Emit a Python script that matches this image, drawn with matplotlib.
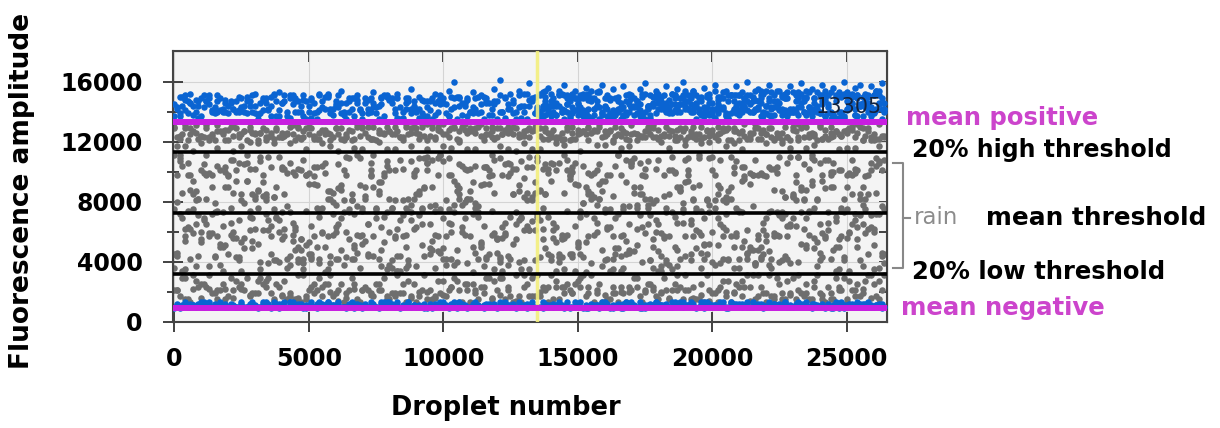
import numpy as np
import matplotlib
matplotlib.use("Agg")
import matplotlib.pyplot as plt
from matplotlib.lines import Line2D

plt.rcParams['font.family'] = ['DejaVu Sans']

# Droplet readings as flat [x, y, x, y, ...] lists.
# x = droplet number in hundreds, y = fluorescence amplitude in hundreds.

# --- positive droplets (blue) ---
pos_band_a = [
0,137, 1,142, 2,137, 3,144, 4,151, 5,139, 6,146, 7,144, 8,140, 9,144,
10,149, 11,151, 12,147, 13,151, 14,140, 15,139, 16,140, 17,149, 18,142, 19,146,
20,139, 21,146, 22,142, 23,140, 24,140, 25,149, 26,140, 27,139, 28,147, 29,151,
30,144, 31,135, 32,139, 33,149, 34,149, 35,142, 36,137, 37,151, 38,147, 39,137,
40,146, 41,151, 42,140, 43,151, 44,151, 45,140, 46,147, 47,144, 48,137, 49,135,
50,144, 51,149, 52,139, 53,135, 54,151, 55,147, 56,142, 57,151, 58,142, 59,142,
60,144, 61,151, 62,139, 63,140, 64,135, 65,147, 66,149, 67,137, 68,146, 69,142,
70,135, 71,146, 72,139, 73,149, 74,146, 75,139, 76,135, 77,149, 78,151, 79,151,
80,149, 81,146, 82,139, 83,149, 84,135, 85,140, 86,142, 87,149, 88,139, 89,144,
90,140, 91,142, 92,139, 93,137, 94,137, 95,147, 96,135, 97,146, 98,147, 99,151,
100,149, 101,139, 102,137, 103,142, 104,149, 105,135, 106,149, 107,146, 108,144, 109,137,
110,140, 111,139, 112,149, 113,139, 114,140, 115,135, 116,146, 117,146, 118,142, 119,147,
120,135, 121,151, 122,140, 123,149, 124,142, 125,142, 126,146, 127,135, 128,151, 129,144,
130,144, 131,135, 132,144, 133,149, 134,139, 135,139, 136,140, 137,137, 138,147, 139,139,
140,144, 141,140, 142,144, 143,151, 144,142, 145,135, 146,149, 147,137, 148,139, 149,149,
150,142, 151,149, 152,137, 153,137, 154,137, 155,147, 156,142, 157,144, 158,135, 159,139,
160,149, 161,142, 162,137, 163,135, 164,139, 165,147, 166,135, 167,137, 168,151, 169,140,
170,149, 171,144, 172,139, 173,137, 174,137, 175,135, 176,144, 177,144, 178,144, 179,151,
180,146, 181,142, 182,142, 183,146, 184,139, 185,139, 186,151, 187,142, 188,149, 189,151,
190,144, 191,142, 192,151, 193,140, 194,135, 195,140, 196,149, 197,137, 198,151, 199,146,
200,142, 201,142, 202,139, 203,149, 204,149, 205,137, 206,135, 207,151, 208,147, 209,144,
210,146, 211,146, 212,144, 213,151, 214,140, 215,140, 216,142, 217,142, 218,146, 219,137,
220,139, 221,149, 222,142, 223,147, 224,144, 225,146, 226,142, 227,149, 228,139, 229,140,
230,140, 231,147, 232,149, 233,146, 234,147, 235,149, 236,140, 237,137, 238,146, 239,144,
240,139, 241,147, 242,137, 243,139, 244,135, 245,137, 246,151, 247,135, 248,151, 249,137,
250,142, 251,144, 252,146, 253,142, 254,149, 255,144, 256,146, 257,146, 258,151, 259,139,
260,140, 261,142, 262,146, 263,135, 264,140]

pos_band_b = [
1,143, 3,150, 5,147, 7,138, 9,136, 11,143, 13,145, 15,143, 17,141, 19,140,
21,147, 23,147, 25,143, 27,150, 29,140, 31,138, 33,141, 35,141, 37,152, 39,141,
41,147, 43,136, 45,149, 47,140, 49,147, 51,136, 53,140, 55,143, 57,152, 59,138,
61,143, 63,138, 65,140, 67,149, 69,141, 71,149, 73,140, 75,143, 77,145, 79,150,
81,149, 83,136, 85,136, 87,147, 89,147, 91,136, 93,147, 95,141, 97,138, 99,145,
101,145, 103,150, 105,150, 107,138, 109,149, 111,143, 113,150, 115,150, 117,138, 119,145,
121,140, 123,136, 125,152, 127,140, 129,136, 131,152, 133,147,
135,142, 136,152, 137,142, 138,154, 139,142, 140,147, 141,145, 142,138,
143,154, 144,140, 145,151, 146,140, 147,147, 148,143, 149,149, 150,145, 151,143, 152,149,
153,151, 154,152, 155,154, 156,142, 157,147, 158,154, 159,138, 160,143, 161,149, 162,138,
163,138, 164,140, 165,140, 166,143, 167,143, 168,138, 169,147, 170,143, 171,138, 172,147,
173,145, 174,152, 175,152, 176,142, 177,138, 178,145, 179,149, 180,149, 181,147, 182,142,
183,140, 184,143, 185,152, 186,145, 187,140, 188,145, 189,149, 190,154, 191,147, 192,140,
193,154, 194,145, 195,140, 196,147, 197,140, 198,140, 199,149, 200,138, 201,154, 202,145,
203,143, 204,143, 205,138, 206,147, 207,151, 208,142, 209,151, 210,138, 211,143, 212,149,
213,147, 214,151, 215,147, 216,154, 217,147, 218,154, 219,140, 220,154, 221,147, 222,143,
223,138, 224,154, 225,142, 226,140, 227,152, 228,149, 229,140, 230,140, 231,151, 232,143,
233,152, 234,140, 235,154, 236,143, 237,142, 238,149, 239,140, 240,140, 241,151, 242,154,
243,143, 244,140, 245,138, 246,147, 247,140, 248,140, 249,152, 250,147, 251,145, 252,152,
253,138, 254,151, 255,145, 256,145, 257,149, 258,142, 259,143, 260,151, 261,154, 262,154,
263,149, 264,142]

pos_band_c = [
136,151, 138,145, 140,152, 142,146, 144,152, 146,145, 148,152, 150,146, 152,152, 154,148,
156,149, 158,153, 160,144, 162,148, 164,149, 166,146, 168,147, 170,149, 172,147, 174,150,
176,144, 178,146, 180,152, 182,151, 184,148, 186,151, 188,145, 190,147, 192,149, 194,146,
196,150, 198,150, 200,146, 202,148, 204,153, 206,151, 208,151, 210,151, 212,149, 214,146,
216,148, 218,151, 220,144, 222,153, 224,147, 226,150, 228,153, 230,153, 232,153, 234,149,
236,153, 238,149, 240,151, 242,148, 244,153, 246,150, 248,150, 250,153, 252,150, 254,151,
256,150, 258,146, 260,151, 262,151, 264,146,
0,145, 4,141, 8,148, 12,147, 16,147, 20,144, 24,141, 28,144, 32,146, 36,144,
40,146, 44,145, 48,148, 52,146, 56,150, 60,145, 64,146, 68,148, 72,142, 76,144,
80,149, 84,143, 88,142, 92,148, 96,149, 100,146, 104,143, 108,146, 112,142, 116,147,
120,147, 124,145, 128,143, 132,148]

pos_band_d = [
135,143, 136,137, 137,144, 138,138, 139,144, 140,137, 141,144, 142,138, 143,144, 144,140,
145,141, 146,145, 147,136, 148,140, 149,141, 150,138, 151,139, 152,141, 153,139, 154,142,
155,136, 156,138, 157,144, 158,143, 159,140, 160,143, 161,137, 162,139, 163,141, 164,138,
165,142, 166,142, 167,138, 168,140, 169,145, 170,143, 171,143, 172,143, 173,141, 174,138,
175,140, 176,143, 177,136, 178,145, 179,139, 180,142, 181,145, 182,145, 183,145, 184,141,
185,145, 186,141, 187,143, 188,140, 189,145, 190,142, 191,142, 192,145, 193,142, 194,143,
195,142, 196,138, 197,143, 198,143, 199,138, 200,140, 201,136, 202,143, 203,142, 204,142,
205,139, 206,136, 207,139, 208,141, 209,139, 210,141, 211,140, 212,143, 213,141, 214,145,
215,140, 216,141, 217,143, 218,137, 219,139, 220,144, 221,138, 222,137, 223,143, 224,144,
225,141, 226,138, 227,141, 228,137, 229,142, 230,142, 231,140, 232,138, 233,143, 234,140,
235,138, 236,143, 237,140, 238,142, 239,142, 240,139, 241,145, 242,137, 243,145, 244,139,
245,138, 246,136, 247,136, 248,139, 249,136, 250,141, 251,145, 252,145, 253,138, 254,137,
255,144, 256,137, 257,143, 258,140, 259,137, 260,139, 261,141, 262,145, 263,142, 264,142,
2,139, 6,146, 10,137, 14,141, 18,140, 22,142, 26,144, 30,139, 34,146, 38,137,
42,137, 46,140, 50,140, 54,141, 58,139, 62,146, 66,142, 70,139, 74,143, 78,137,
82,142, 86,146, 90,142, 94,143, 98,140, 102,137, 106,144, 110,140, 114,145, 118,138,
122,140, 126,139, 130,140, 134,139]

pos_sparse = [
2,150, 4,148, 6,152, 9,147, 13,149, 16,151, 19,148, 24,150, 27,147, 30,152,
33,148, 36,150, 39,153, 43,149, 45,147, 48,151, 51,148, 54,152, 57,150, 60,147,
62,154, 65,149, 68,151, 72,148, 74,153, 77,150, 80,148, 83,152, 86,149, 88,155,
91,150, 94,147, 97,152, 99,149, 102,154, 104,160, 106,150, 109,148, 111,153, 114,151,
116,149, 119,155, 121,161, 123,150, 126,148, 128,154, 130,152, 132,159, 134,150, 137,153,
139,156, 141,149, 143,152, 145,158, 147,150, 149,154, 151,151, 153,156, 155,149, 157,153,
159,158, 161,151, 163,155, 165,150, 167,157, 169,152, 171,149, 173,155, 175,159, 177,151,
179,154, 181,150, 183,157, 185,152, 187,155, 189,160, 191,151, 193,154, 195,149, 197,156,
199,152, 201,158, 203,150, 205,154, 207,151, 209,157, 211,153, 213,160, 215,150, 217,155,
219,152, 221,158, 223,151, 225,154, 227,149, 229,157, 231,152, 233,159, 235,150, 237,155,
239,153, 241,158, 243,151, 245,156, 247,153, 249,160, 251,151, 253,156, 255,158, 257,152,
259,157, 261,154, 263,159,
138,150, 146,151, 154,150, 162,149, 170,151, 178,150, 186,149, 194,151, 202,150, 210,151,
218,149, 226,151, 234,149, 242,150, 250,151, 258,150]

# --- upper grey droplets (between 20% high threshold and mean positive) ---
grey_high_a = [
0,129, 1,123, 2,122, 3,125, 4,129, 5,121, 6,129, 7,127, 8,126, 9,122,
10,124, 11,123, 12,129, 13,123, 14,124, 15,121, 16,127, 17,127, 18,125, 19,128,
20,121, 21,130, 22,124, 23,129, 24,125, 25,125, 26,127, 27,121, 28,130, 29,126,
30,126, 31,121, 32,126, 33,129, 34,123, 35,123, 36,124, 37,122, 38,128, 39,123,
40,126, 41,124, 42,126, 43,130, 44,125, 45,121, 46,129, 47,122, 48,123, 49,129,
50,125, 51,129, 52,122, 53,122, 54,122, 55,128, 56,125, 57,126, 58,121, 59,123,
60,129, 61,125, 62,122, 63,121, 64,123, 65,128, 66,121, 67,122, 68,130, 69,124,
70,129, 71,126, 72,123, 73,122, 74,122, 75,121, 76,126, 77,126, 78,126, 79,130,
80,127, 81,125, 82,125, 83,127, 84,123, 85,123, 86,130, 87,125, 88,129, 89,130,
90,126, 91,125, 92,130, 93,124, 94,121, 95,124, 96,129, 97,122, 98,130, 99,127,
100,125, 101,125, 102,123, 103,129, 104,129, 105,122, 106,121, 107,130, 108,128, 109,126,
110,127, 111,127, 112,126, 113,130, 114,124, 115,124, 116,125, 117,125, 118,127, 119,122,
120,123, 121,129, 122,125, 123,128, 124,126, 125,127, 126,125, 127,129, 128,123, 129,124,
130,124, 131,128, 132,129, 133,127, 134,128, 135,129, 136,124, 137,122, 138,127, 139,126,
140,123, 141,128, 142,122, 143,123, 144,121, 145,122, 146,130, 147,121, 148,130, 149,122,
150,125, 151,126, 152,127, 153,125, 154,129, 155,126, 156,127, 157,127, 158,130, 159,123,
160,124, 161,125, 162,127, 163,121, 164,124, 165,125, 166,129, 167,127, 168,122, 169,121,
170,125, 171,126, 172,125, 173,124, 174,123, 175,127, 176,127, 177,125, 178,129, 179,123,
180,122, 181,124, 182,124, 183,130, 184,124, 185,127, 186,121, 187,128, 188,123, 189,127,
190,121, 191,123, 192,125, 193,130, 194,122, 195,125, 196,122, 197,123, 198,128, 199,124,
200,128, 201,123, 202,125, 203,126, 204,129, 205,128, 206,121, 207,121, 208,127, 209,127,
210,121, 211,127, 212,124, 213,122, 214,126, 215,126, 216,129, 217,129, 218,122, 219,128,
220,125, 221,129, 222,129, 223,122, 224,126, 225,123, 226,121, 227,130, 228,123, 229,121,
230,130, 231,127, 232,123, 233,129, 234,123, 235,130, 236,123, 237,126, 238,125, 239,121,
240,130, 241,122, 242,128, 243,122, 244,126, 245,124, 246,127, 247,125, 248,124, 249,127,
250,128, 251,129, 252,130, 253,123, 254,126, 255,130, 256,121, 257,124, 258,127, 259,121,
260,121, 261,122, 262,122, 263,124, 264,124]

grey_high_b = [
0,130, 2,124, 4,131, 6,125, 8,131, 10,124, 12,131, 14,125, 16,131, 18,127,
20,128, 22,132, 24,123, 26,127, 28,128, 30,125, 32,126, 34,128, 36,126, 38,129,
40,123, 42,125, 44,131, 46,130, 48,127, 50,130, 52,124, 54,126, 56,128, 58,125,
60,129, 62,129, 64,125, 66,127, 68,132, 70,130, 72,130, 74,130, 76,128, 78,125,
80,127, 82,130, 84,123, 86,132, 88,126, 90,129, 92,132, 94,132, 96,132, 98,128,
100,132, 102,128, 104,130, 106,127, 108,132, 110,129, 112,129, 114,132, 116,129, 118,130,
120,129, 122,125, 124,130, 126,130, 128,125, 130,127, 132,123, 134,130, 136,129, 138,129,
140,126, 142,123, 144,126, 146,128, 148,126, 150,128, 152,127, 154,130, 156,128, 158,132,
160,127, 162,128, 164,130, 166,124, 168,126, 170,131, 172,125, 174,124, 176,130, 178,131,
180,128, 182,125, 184,128, 186,124, 188,129, 190,129, 192,127, 194,125, 196,130, 198,127,
200,125, 202,130, 204,127, 206,129, 208,129, 210,126, 212,132, 214,124, 216,132, 218,126,
220,125, 222,123, 224,123, 226,126, 228,123, 230,128, 232,132, 234,132, 236,125, 238,124,
240,131, 242,124, 244,130, 246,127, 248,124, 250,126, 252,128, 254,132, 256,129, 258,129,
260,125, 262,132, 264,123]

grey_high_c = [
1,117, 4,117, 7,114, 10,119, 13,121, 16,116, 19,121, 22,114, 25,117, 28,120,
31,119, 34,121, 37,119, 40,123, 43,119, 46,123, 49,115, 52,123, 55,119, 58,117,
61,114, 64,123, 67,116, 70,115, 73,122, 76,120, 79,115, 82,115, 85,121, 88,117,
91,122, 94,115, 97,123, 100,117, 103,116, 106,120, 109,115, 112,115, 115,121, 118,123,
121,117, 124,115, 127,114, 130,119, 133,115, 136,115, 139,122, 142,119, 145,118, 148,122,
151,114, 154,121, 157,118, 160,118, 163,120, 166,116, 169,117, 172,121, 175,123, 178,123,
181,120, 184,116, 187,121, 190,118, 193,123, 196,119, 199,120, 202,121, 205,117, 208,119,
211,115, 214,122, 217,122, 220,119, 223,121, 226,119, 229,116, 232,121, 235,116, 238,118,
241,122, 244,123, 247,115, 250,116, 253,116, 256,121, 259,123, 262,117]

# --- rain (between the 20% thresholds) ---
rain_a = [
0,45, 1,46, 2,107, 3,86, 4,62, 5,106, 6,98, 7,59, 8,65, 9,71,
10,55, 11,68, 12,65, 13,59, 14,98, 15,73, 16,57, 17,101, 18,50, 19,90,
20,90, 21,66, 22,108, 23,94, 24,41, 25,81, 26,49, 27,111, 28,74, 29,69,
30,82, 31,52, 32,40, 33,98, 34,85, 35,39, 36,57, 37,83, 38,41, 39,110,
40,103, 41,57, 42,36, 43,73, 44,54, 45,61, 46,50, 47,48, 48,39, 49,98,
50,99, 51,45, 52,97, 53,103, 54,74, 55,59, 56,99, 57,57, 58,87, 59,72,
60,42, 61,65, 62,69, 63,81, 64,110, 65,73, 66,81, 67,51, 68,58, 69,91,
70,76, 71,82, 72,65, 73,98, 74,57, 75,73, 76,42, 77,48, 78,70, 79,35,
80,101, 81,41, 82,56, 83,34, 84,108, 85,102, 86,50, 87,41, 88,78, 89,82,
90,85, 91,71, 92,51, 93,109, 94,106, 95,77, 96,108, 97,36, 98,98, 99,111,
100,69, 101,57, 102,98, 103,42, 104,94, 105,87, 106,82, 107,60, 108,69, 109,82,
110,57, 111,72, 112,79, 113,73, 114,52, 115,64, 116,103, 117,97, 118,58, 119,86,
120,56, 121,43, 122,34, 123,105, 124,106, 125,70, 126,85, 127,102, 128,87, 129,107,
130,61, 131,81, 132,61, 133,103, 134,41, 135,70, 136,68, 137,55, 138,85, 139,99,
140,44, 141,66, 142,63, 143,40, 144,55, 145,35, 146,74, 147,45, 148,43, 149,92,
150,91, 151,70, 152,104, 153,33, 154,87, 155,39, 156,58, 157,78, 158,105, 159,48,
160,73, 161,98, 162,75, 163,42, 164,49, 165,111, 166,57, 167,58, 168,54, 169,65,
170,106, 171,90, 172,76, 173,85, 174,63, 175,97, 176,107, 177,82, 178,36, 179,81,
180,34, 181,44, 182,57, 183,76, 184,38, 185,73, 186,99, 187,37, 188,87, 189,75,
190,44, 191,101, 192,45, 193,90, 194,74, 195,109, 196,46, 197,42, 198,81, 199,109,
200,60, 201,38, 202,91, 203,89, 204,63, 205,80, 206,82, 207,82, 208,50, 209,76,
210,42, 211,50, 212,103, 213,42, 214,92, 215,98, 216,108, 217,55, 218,42, 219,98,
220,58, 221,38, 222,42, 223,102, 224,73, 225,40, 226,69, 227,83, 228,64, 229,110,
230,83, 231,93, 232,110, 233,88, 234,62, 235,49, 236,102, 237,94, 238,56, 239,53,
240,106, 241,43, 242,56, 243,108, 244,98, 245,100, 246,34, 247,50, 248,74, 249,43,
250,90, 251,99, 252,98, 253,99, 254,101, 255,82, 256,37, 257,75, 258,62, 259,63,
260,35, 261,104, 262,72, 263,44, 264,75]

rain_b = [
0,36, 1,98, 2,111, 3,69, 4,57, 5,98, 6,42, 7,94, 8,87, 9,82, 10,60, 11,69, 12,82,
13,57, 14,72, 15,79, 16,73, 17,52, 18,64, 19,103, 20,97, 21,58, 22,86,
23,56, 24,43, 25,34, 26,105, 27,106, 28,70, 29,85, 30,102, 31,87, 32,107,
33,61, 34,81, 35,61, 36,103, 37,41, 38,70, 39,68, 40,55, 41,85, 42,99,
43,44, 44,66, 45,63, 46,40, 47,55, 48,35, 49,74, 50,45, 51,43, 52,92,
53,91, 54,70, 55,104, 56,33, 57,87, 58,39, 59,58, 60,78, 61,105, 62,48,
63,73, 64,98, 65,75, 66,42, 67,49, 68,111, 69,57, 70,58, 71,54, 72,65,
73,106, 74,90, 75,76, 76,85, 77,63, 78,97, 79,107, 80,82, 81,36, 82,81,
83,34, 84,44, 85,57, 86,76, 87,38, 88,73, 89,99, 90,37, 91,87, 92,75,
93,44, 94,101, 95,45, 96,90, 97,74, 98,109, 99,46, 100,42, 101,81, 102,109,
103,60, 104,38, 105,91, 106,89, 107,63, 108,80, 109,82, 110,82, 111,50, 112,76,
113,42, 114,50, 115,103, 116,42, 117,92, 118,98, 119,108, 120,55, 121,42, 122,98,
123,58, 124,38, 125,42, 126,102, 127,73, 128,40, 129,69, 130,83, 131,64, 132,110,
133,83, 134,93, 135,110, 136,88, 137,62, 138,49, 139,102, 140,94, 141,56, 142,53,
143,106, 144,43, 145,56, 146,108, 147,98, 148,100, 149,34, 150,50, 151,74, 152,43,
153,90, 154,99, 155,98, 156,99, 157,101, 158,82, 159,37, 160,75, 161,62, 162,63,
163,35, 164,104, 165,72, 166,44, 167,75,
168,45, 169,46, 170,107, 171,86, 172,62, 173,106, 174,98, 175,59, 176,65, 177,71,
178,55, 179,68, 180,65, 181,59, 182,98, 183,73, 184,57, 185,101, 186,50, 187,90,
188,90, 189,66, 190,108, 191,94, 192,41, 193,81, 194,49, 195,111, 196,74, 197,69,
198,82, 199,52, 200,40, 201,98, 202,85, 203,39, 204,57, 205,83, 206,41, 207,110,
208,103, 209,57, 210,36, 211,73, 212,54, 213,61, 214,50, 215,48, 216,39, 217,98,
218,99, 219,45, 220,97, 221,103, 222,74, 223,59, 224,99, 225,57, 226,87, 227,72,
228,42, 229,65, 230,69, 231,81, 232,110, 233,73, 234,81, 235,51, 236,58, 237,91,
238,76, 239,82, 240,65, 241,98, 242,57, 243,73, 244,42, 245,48, 246,70, 247,35,
248,101, 249,41, 250,56, 251,34, 252,108, 253,102, 254,50, 255,41, 256,78, 257,82,
258,85, 259,71, 260,51, 261,109, 262,106, 263,77, 264,108]

rain_c = [
0,75, 1,44, 2,72, 3,104, 4,35,
5,63, 6,62, 7,75, 8,37, 9,82, 10,101, 11,99, 12,98, 13,99, 14,90,
15,43, 16,74, 17,50, 18,34, 19,100, 20,98, 21,108, 22,56, 23,43, 24,106,
25,53, 26,56, 27,94, 28,102, 29,49, 30,62, 31,88, 32,110, 33,93, 34,83,
35,110, 36,64, 37,83, 38,69, 39,40, 40,73, 41,102, 42,42, 43,38, 44,58,
45,98, 46,42, 47,55, 48,108, 49,98, 50,92, 51,42, 52,103, 53,50, 54,42,
55,76, 56,50, 57,82, 58,82, 59,80, 60,63, 61,89, 62,91, 63,38, 64,60,
65,109, 66,81, 67,42, 68,46, 69,109, 70,74, 71,90, 72,45, 73,101, 74,44,
75,75, 76,87, 77,37, 78,99, 79,73, 80,38, 81,76, 82,57, 83,44, 84,34,
85,81, 86,36, 87,82, 88,107, 89,97, 90,63, 91,85, 92,76, 93,90, 94,106,
95,65, 96,54, 97,58, 98,57, 99,111, 100,49, 101,42, 102,75, 103,98, 104,73,
105,48, 106,105, 107,78, 108,58, 109,39, 110,87, 111,33, 112,104, 113,70, 114,91,
115,92, 116,43, 117,45, 118,74, 119,35, 120,55, 121,40, 122,63, 123,66, 124,44,
125,99, 126,85, 127,55, 128,68, 129,70, 130,41, 131,103, 132,61, 133,81, 134,61,
135,107, 136,87, 137,102, 138,85, 139,70, 140,106, 141,105, 142,34, 143,43, 144,56,
145,86, 146,58, 147,97, 148,103, 149,64, 150,52, 151,73, 152,79, 153,72, 154,57,
155,82, 156,69, 157,60, 158,82, 159,87, 160,94, 161,42, 162,98, 163,57, 164,69,
165,111, 166,98, 167,36, 168,108, 169,77, 170,106, 171,109, 172,51, 173,71, 174,85,
175,82, 176,78, 177,41, 178,50, 179,102, 180,108, 181,34, 182,56, 183,41, 184,101,
185,35, 186,70, 187,48, 188,42, 189,73, 190,57, 191,98, 192,65, 193,82, 194,76,
195,91, 196,58, 197,51, 198,81, 199,73, 200,110, 201,81, 202,69, 203,65, 204,42,
205,72, 206,87, 207,57, 208,99, 209,59, 210,74, 211,103, 212,97, 213,45, 214,99,
215,98, 216,39, 217,48, 218,50, 219,61, 220,54, 221,73, 222,36, 223,57, 224,103,
225,110, 226,41, 227,83, 228,57, 229,39, 230,85, 231,98, 232,40, 233,52, 234,82,
235,69, 236,74, 237,111, 238,49, 239,81, 240,41, 241,94, 242,108, 243,66, 244,90,
245,90, 246,50, 247,101, 248,57, 249,73, 250,98, 251,59, 252,65, 253,68, 254,55,
255,71, 256,65, 257,59, 258,98, 259,106, 260,62, 261,86, 262,107, 263,46, 264,45]

rain_d = [
0,111, 1,80, 2,109, 3,34, 4,54, 5,74, 6,88, 7,85, 8,81, 9,44,
10,53, 11,105, 12,111, 13,37, 14,59, 15,44, 16,104, 17,38, 18,73, 19,51,
20,45, 21,76, 22,60, 23,101, 24,68, 25,85, 26,79, 27,94, 28,61, 29,54,
30,84, 31,76, 32,35, 33,84, 34,72, 35,68, 36,45, 37,75, 38,90, 39,60,
40,102, 41,62, 42,77, 43,106, 44,100, 45,48, 46,102, 47,101, 48,42, 49,51,
50,53, 51,64, 52,57, 53,76, 54,39, 55,60, 56,106, 57,35, 58,44, 59,86,
60,60, 61,42, 62,88, 63,101, 64,43, 65,55, 66,85, 67,72, 68,77, 69,36,
70,52, 71,84, 72,44, 73,97, 74,111, 75,69, 76,93, 77,93, 78,53, 79,104,
80,60, 81,76, 82,101, 83,62, 84,68, 85,71, 86,58, 87,74, 88,68, 89,62,
90,101, 91,109, 92,65, 93,89, 94,110, 95,49, 96,48, 97,78, 98,47, 99,75,
100,107, 101,38, 102,66, 103,65, 104,78, 105,40, 106,85, 107,104, 108,102, 109,101,
110,102, 111,93, 112,46, 113,77, 114,53, 115,37, 116,103, 117,101, 118,111, 119,59,
120,46, 121,109, 122,56, 123,59, 124,97, 125,105, 126,52, 127,65, 128,91, 129,35,
130,96, 131,86, 132,35, 133,67, 134,86, 135,72, 136,43, 137,76, 138,105, 139,45,
140,41, 141,61, 142,101, 143,45, 144,58, 145,111, 146,101, 147,95, 148,45, 149,106,
150,53, 151,45, 152,79, 153,53, 154,85, 155,85, 156,83, 157,66, 158,92, 159,94,
160,41, 161,63, 162,34, 163,84, 164,45, 165,49, 166,34, 167,77, 168,93, 169,48,
170,104, 171,47, 172,78, 173,90, 174,40, 175,102, 176,76, 177,41, 178,79, 179,60,
180,47, 181,37, 182,84, 183,39, 184,85, 185,110, 186,100, 187,66, 188,88, 189,79,
190,93, 191,109, 192,68, 193,57, 194,61, 195,60, 196,36, 197,52, 198,45, 199,78,
200,101, 201,76, 202,51, 203,108, 204,81, 205,61, 206,42, 207,90, 208,36, 209,107,
210,73, 211,94, 212,95, 213,46, 214,48, 215,77, 216,38, 217,58, 218,43, 219,66,
220,69, 221,47, 222,102, 223,88, 224,58, 225,71, 226,73, 227,44, 228,106, 229,64,
230,84, 231,64, 232,110, 233,90, 234,105, 235,88, 236,73, 237,109, 238,108, 239,37,
240,46, 241,59, 242,89, 243,61, 244,100, 245,106, 246,67, 247,55, 248,76, 249,82,
250,75, 251,60, 252,85, 253,72, 254,63, 255,85, 256,90, 257,97, 258,45, 259,101,
260,60, 261,72, 262,36, 263,101, 264,39]

# --- lower grey droplets (between mean negative and 20% low threshold) ---
grey_low_a = [
0,21, 1,21, 2,17, 3,29, 4,29, 5,15, 6,13, 7,31, 8,27, 9,23,
10,25, 11,25, 12,23, 13,31, 14,19, 15,19, 16,21, 17,21, 18,25, 19,15,
20,17, 21,29, 22,21, 23,27, 24,23, 25,25, 26,21, 27,29, 28,17, 29,19,
30,19, 31,27, 32,29, 33,25, 34,27, 35,29, 36,19, 37,15, 38,25, 39,23,
40,17, 41,27, 42,15, 43,17, 44,13, 45,15, 46,31, 47,13, 48,31, 49,15,
50,21, 51,23, 52,25, 53,21, 54,29, 55,23, 56,25, 57,25, 58,31, 59,17,
60,19, 61,21, 62,25, 63,13, 64,19, 65,21, 66,29, 67,25, 68,15, 69,13,
70,21, 71,23, 72,21, 73,19, 74,17, 75,25, 76,25, 77,21, 78,29, 79,17,
80,15, 81,19, 82,19, 83,31, 84,19, 85,25, 86,13, 87,27, 88,17, 89,25,
90,13, 91,17, 92,21, 93,31, 94,15, 95,21, 96,15, 97,17, 98,27, 99,19,
100,27, 101,17, 102,21, 103,23, 104,29, 105,27, 106,13, 107,13, 108,25, 109,25,
110,13, 111,25, 112,19, 113,15, 114,23, 115,23, 116,29, 117,29, 118,15, 119,27,
120,21, 121,29, 122,29, 123,15, 124,23, 125,17, 126,13, 127,31, 128,17, 129,13,
130,31, 131,25, 132,17, 133,29, 134,17, 135,31, 136,17, 137,23, 138,21, 139,13,
140,31, 141,15, 142,27, 143,15, 144,23, 145,19, 146,25, 147,21, 148,19, 149,25,
150,27, 151,29, 152,31, 153,17, 154,23, 155,31, 156,13, 157,19, 158,25, 159,13,
160,13, 161,15, 162,15, 163,19, 164,19, 165,13, 166,23, 167,19, 168,13, 169,23,
170,21, 171,29, 172,29, 173,17, 174,13, 175,21, 176,25, 177,25, 178,23, 179,17,
180,15, 181,19, 182,29, 183,21, 184,15, 185,21, 186,25, 187,31, 188,23, 189,15,
190,31, 191,21, 192,15, 193,23, 194,15, 195,15, 196,25, 197,13, 198,31, 199,21,
200,19, 201,19, 202,13, 203,23, 204,27, 205,17, 206,27, 207,13, 208,19, 209,25,
210,23, 211,27, 212,23, 213,31, 214,23, 215,31, 216,15, 217,31, 218,23, 219,19,
220,13, 221,31, 222,17, 223,15, 224,29, 225,25, 226,15, 227,15, 228,27, 229,19,
230,29, 231,15, 232,31, 233,19, 234,17, 235,25, 236,15, 237,15, 238,27, 239,31,
240,19, 241,15, 242,13, 243,23, 244,15, 245,15, 246,29, 247,23, 248,21, 249,29,
250,13, 251,27, 252,21, 253,21, 254,25, 255,17, 256,19, 257,27, 258,31, 259,31,
260,25, 261,17, 262,27, 263,21, 264,31]

grey_low_b = [
1,21, 4,15, 7,22, 10,16, 13,22, 16,15, 19,22, 22,16, 25,22, 28,18,
31,19, 34,23, 37,14, 40,18, 43,19, 46,16, 49,17, 52,19, 55,17, 58,20,
61,14, 64,16, 67,22, 70,21, 73,18, 76,21, 79,15, 82,17, 85,19, 88,16,
91,20, 94,20, 97,16, 100,18, 103,23, 106,21, 109,21, 112,21, 115,19, 118,16,
121,18, 124,21, 127,14, 130,23, 133,17, 136,20, 139,23, 142,23, 145,23, 148,19,
151,23, 154,19, 157,21, 160,18, 163,23, 166,20, 169,20, 172,23, 175,20, 178,21,
181,20, 184,16, 187,21, 190,21, 193,16, 196,18, 199,14, 202,21, 205,20, 208,20,
211,17, 214,14, 217,17, 220,19, 223,17, 226,19, 229,18, 232,21, 235,19, 238,23,
241,18, 244,19, 247,21, 250,15, 253,17, 256,22, 259,16, 262,15]

# --- negative droplets (blue) ---
neg_band_a = [
0,9, 1,11, 2,9, 3,11, 4,13, 5,10, 6,12, 7,11, 8,10, 9,11,
10,13, 11,13, 12,12, 13,13, 14,10, 15,10, 16,10, 17,13, 18,11, 19,12,
20,10, 21,12, 22,11, 23,10, 24,10, 25,13, 26,10, 27,10, 28,12, 29,13,
30,11, 31,9, 32,10, 33,13, 34,13, 35,11, 36,9, 37,13, 38,12, 39,9,
40,12, 41,13, 42,10, 43,13, 44,13, 45,10, 46,12, 47,11, 48,9, 49,9,
50,11, 51,13, 52,10, 53,9, 54,13, 55,12, 56,11, 57,13, 58,11, 59,11,
60,11, 61,13, 62,10, 63,10, 64,9, 65,12, 66,13, 67,9, 68,12, 69,11,
70,9, 71,12, 72,10, 73,13, 74,12, 75,10, 76,9, 77,13, 78,13, 79,13,
80,13, 81,12, 82,10, 83,13, 84,9, 85,10, 86,11, 87,13, 88,10, 89,11,
90,10, 91,11, 92,10, 93,9, 94,9, 95,12, 96,9, 97,12, 98,12, 99,13,
100,13, 101,10, 102,9, 103,11, 104,13, 105,9, 106,13, 107,12, 108,11, 109,9,
110,10, 111,10, 112,13, 113,10, 114,10, 115,9, 116,12, 117,12, 118,11, 119,12,
120,9, 121,13, 122,10, 123,13, 124,11, 125,11, 126,12, 127,9, 128,13, 129,11,
130,11, 131,9, 132,11, 133,13, 134,10, 135,10, 136,10, 137,9, 138,12, 139,10,
140,11, 141,10, 142,11, 143,13, 144,11, 145,9, 146,13, 147,9, 148,10, 149,13,
150,11, 151,13, 152,9, 153,9, 154,9, 155,12, 156,11, 157,11, 158,9, 159,10,
160,13, 161,11, 162,9, 163,9, 164,10, 165,12, 166,9, 167,9, 168,13, 169,10,
170,13, 171,11, 172,10, 173,9, 174,9, 175,9, 176,11, 177,11, 178,11, 179,13,
180,12, 181,11, 182,11, 183,12, 184,10, 185,10, 186,13, 187,11, 188,13, 189,13,
190,11, 191,11, 192,13, 193,10, 194,9, 195,10, 196,13, 197,9, 198,13, 199,12,
200,11, 201,11, 202,10, 203,13, 204,13, 205,9, 206,9, 207,13, 208,12, 209,11,
210,12, 211,12, 212,11, 213,13, 214,10, 215,10, 216,11, 217,11, 218,12, 219,9,
220,10, 221,13, 222,11, 223,12, 224,11, 225,12, 226,11, 227,13, 228,10, 229,10,
230,10, 231,12, 232,13, 233,12, 234,12, 235,13, 236,10, 237,9, 238,12, 239,11,
240,10, 241,12, 242,9, 243,10, 244,9, 245,9, 246,13, 247,9, 248,13, 249,9,
250,11, 251,11, 252,12, 253,11, 254,13, 255,11, 256,12, 257,12, 258,13, 259,10,
260,10, 261,11, 262,12, 263,9, 264,10]

neg_band_b = [
1,12, 3,10, 5,10, 7,11, 9,12, 11,10, 13,12, 15,12, 17,11, 19,10,
21,11, 23,10, 25,12, 27,10, 29,11, 31,10, 33,12, 35,12, 37,11, 39,12,
41,10, 43,13, 45,11, 47,12, 49,11, 51,11, 53,12, 55,10, 57,13, 59,11,
61,11, 63,10, 65,11, 67,12, 69,10, 71,10, 73,11, 75,10, 77,12, 79,10,
81,11, 83,11, 85,11, 87,13, 89,11, 91,10, 93,12, 95,10, 97,10, 99,12,
101,11, 103,12, 105,10, 107,10, 109,10, 111,12, 113,11, 115,11, 117,10, 119,10,
121,12, 123,11, 125,10, 127,10, 129,10, 131,12, 133,10, 135,10, 137,13, 139,11,
141,12, 143,11, 145,10, 147,10, 149,10, 151,10, 153,11, 155,11, 157,11, 159,13,
161,12, 163,11, 165,11, 167,12, 169,10, 171,10, 173,13, 175,11, 177,12, 179,13,
181,11, 183,11, 185,13, 187,11, 189,10, 191,11, 193,12, 195,10, 197,13, 199,12,
201,11, 203,11, 205,10, 207,12, 209,12, 211,10, 213,10, 215,13, 217,12, 219,11,
221,12, 223,12, 225,11, 227,13, 229,11, 231,11, 233,11, 235,11, 237,12, 239,10,
241,10, 243,12, 245,11, 247,12, 249,11, 251,12, 253,11, 255,12, 257,10, 259,11,
261,11, 263,12]

# --- reference levels ---
mean_positive = 13305
high_threshold = 11290
mean_threshold = 7230
low_threshold = 3150
mean_negative = 880
marker_droplet = 13500

x_ticks = [0, 5000, 10000, 15000, 20000, 25000]
y_ticks = [0, 4000, 8000, 12000, 16000]
y_minor_ticks = [2000, 6000, 10000, 14000]

BLUE = '#0a64d2'
GREY = '#6e6e6e'
MAGENTA = '#c81ee0'
LABEL_MAGENTA = '#cc44cc'


def pts(flat):
    a = np.asarray(flat, dtype=float)
    return a[0::2] * 100, a[1::2] * 100


W, H = 1220, 428
fig = plt.figure(figsize=(W / 100, H / 100), dpi=100)
fig.patch.set_facecolor('white')
L, R, T, B = 173, 887, 51, 322
ax = fig.add_axes([L / W, 1 - B / H, (R - L) / W, (B - T) / H])
ax.set_facecolor('#f4f4f4')

for data in (grey_high_a, grey_high_b, grey_high_c, grey_low_a, grey_low_b,
             rain_a, rain_b, rain_c, rain_d):
    x, y = pts(data)
    ax.scatter(x, y, s=22, c=GREY, linewidths=0, zorder=2)
for data in (pos_band_a, pos_band_b, pos_band_c, pos_band_d, pos_sparse,
             neg_band_a, neg_band_b):
    x, y = pts(data)
    ax.scatter(x, y, s=22, c=BLUE, linewidths=0, zorder=3)

ax.axvline(marker_droplet, color='#f3ef7c', lw=2.5, alpha=0.9, zorder=4)
ax.axhline(mean_positive, color=MAGENTA, lw=4.3, zorder=5)
ax.axhline(mean_negative, color=MAGENTA, lw=4.3, zorder=5)
for lvl in (high_threshold, mean_threshold, low_threshold):
    ax.axhline(lvl, color='black', lw=2.6, zorder=5)

ax.text(26300, 14300, '13305', ha='right', va='center', fontsize=15,
        color='#14233c', zorder=6)

ax.set_xlim(-45, 26500)
ax.set_ylim(-33, 18070)
ax.set_xticks(x_ticks)
ax.set_xticklabels([str(v) for v in x_ticks], fontsize=17, fontweight='bold')
ax.set_yticks(y_ticks)
ax.set_yticklabels([str(v) for v in y_ticks], fontsize=17, fontweight='bold')
ax.set_yticks(y_minor_ticks, minor=True)
ax.tick_params(axis='both', which='major', direction='inout', length=14, width=1.3,
               color='#333333')
ax.tick_params(axis='y', which='minor', direction='inout', length=8, width=1.3,
               color='#333333')
ax.tick_params(axis='y', which='major', pad=15)
ax.tick_params(axis='x', which='major', pad=11)
ax.grid(True, which='major', color='#d4d4d4', lw=0.8, zorder=0)
ax.set_axisbelow(True)
for sp in ax.spines.values():
    sp.set_color('#444444')
    sp.set_linewidth(1.5)

secx = ax.secondary_xaxis('top')
secx.set_xticks(x_ticks)
secx.tick_params(direction='in', length=8, width=1.3, color='#333333', labeltop=False)
secy = ax.secondary_yaxis('right')
secy.set_yticks(y_ticks + y_minor_ticks)
secy.tick_params(direction='in', length=6, width=1.3, color='#333333', labelright=False)

ax.set_xlabel('Droplet number', fontsize=18.5, fontweight='bold', va='center')
ax.xaxis.set_label_coords((506 - L) / (R - L), (B - 408) / (B - T))
ax.set_ylabel('Fluorescence amplitude', fontsize=19, fontweight='bold', va='center')
ax.yaxis.set_label_coords((22.5 - L) / (R - L), (B - 191) / (B - T))


def ftext(px, py, s, **kw):
    fig.text(px / W, 1 - py / H, s, va='center', ha='left', **kw)


ftext(906, 118.5, 'mean positive', fontsize=17.5, fontweight='bold', color=LABEL_MAGENTA)
ftext(912, 150, '20% high threshold', fontsize=17, fontweight='bold', color='black')
ftext(914, 218, 'rain', fontsize=16.5, color='#8c8c8c')
ftext(986, 218, 'mean threshold', fontsize=17.8, fontweight='bold', color='black')
ftext(912, 272, '20% low threshold', fontsize=17.5, fontweight='bold', color='black')
ftext(901, 307.5, 'mean negative', fontsize=17.6, fontweight='bold', color=LABEL_MAGENTA)

# bracket marking the rain region
bx = [893, 903, 903, 893]
by = [163, 163, 268, 268]
fig.add_artist(Line2D([v / W for v in bx], [1 - v / H for v in by],
                      color='#888888', lw=1.5))
fig.add_artist(Line2D([903 / W, 910 / W], [1 - 218 / H, 1 - 218 / H],
                      color='#888888', lw=1.5))

fig.savefig('out.png', dpi=100)
